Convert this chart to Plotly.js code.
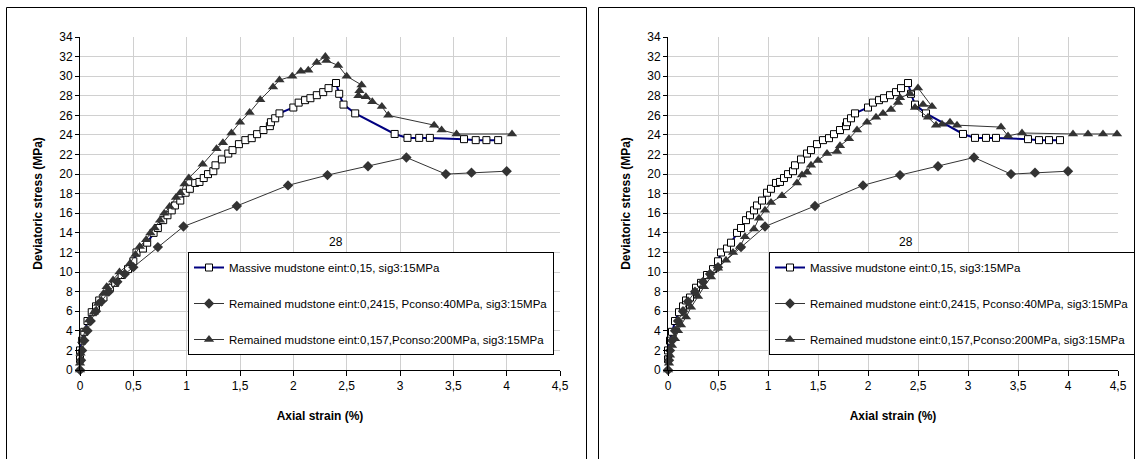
<!DOCTYPE html>
<html>
<head>
<meta charset="utf-8">
<script src="https://cdn.plot.ly/plotly-3.0.1.min.js"></script>
<style>
  html, body { margin: 0; padding: 0; background: #ffffff; }
  #chart { width: 1137px; height: 459px; }
</style>
</head>
<body>
<div id="chart"></div>
<script>
// ---- Data ----
const seriesNames = [
  "Massive mudstone eint:0,15, sig3:15MPa",
  "Remained mudstone eint:0,2415, Pconso:40MPa, sig3:15MPa",
  "Remained mudstone eint:0,157,Pconso:200MPa, sig3:15MPa"
];

// Massive mudstone (same in both panels)
const massiveX = [0, 0, 0.02, 0.04, 0.07, 0.11, 0.15, 0.18, 0.22, 0.28, 0.33, 0.39, 0.45, 0.5, 0.53, 0.59, 0.63, 0.69, 0.73, 0.78, 0.82, 0.86, 0.89, 0.94, 0.99, 1.03, 1.08, 1.12, 1.16, 1.2, 1.25, 1.27, 1.33, 1.39, 1.43, 1.49, 1.55, 1.61, 1.66, 1.72, 1.78, 1.79, 1.83, 1.87, 2.0, 2.05, 2.11, 2.16, 2.22, 2.28, 2.33, 2.4, 2.43, 2.47, 2.58, 2.95, 3.07, 3.18, 3.28, 3.6, 3.71, 3.81, 3.92];
const massiveY = [1.1, 2.0, 3.0, 3.9, 5.0, 5.9, 6.5, 7.1, 7.4, 8.4, 8.9, 9.7, 10.3, 11.1, 12.0, 12.4, 13.0, 14.0, 14.5, 15.3, 15.8, 16.3, 16.8, 17.3, 18.1, 18.5, 19.1, 19.2, 19.6, 20.0, 20.3, 20.9, 21.5, 22.1, 22.45, 23.06, 23.47, 23.67, 24.08, 24.5, 24.9, 25.3, 25.7, 26.2, 26.8, 27.3, 27.55, 27.75, 28.06, 28.37, 28.78, 29.3, 28.2, 27.1, 26.2, 24.1, 23.7, 23.7, 23.7, 23.57, 23.47, 23.47, 23.47];

// Remained mudstone eint 0,2415 (same in both panels)
const remained40X = [0, 0.01, 0.02, 0.04, 0.07, 0.1, 0.15, 0.2, 0.27, 0.35, 0.42, 0.5, 0.73, 0.97, 1.47, 1.95, 2.32, 2.7, 3.06, 3.43, 3.67, 4.0];
const remained40Y = [0, 1, 2, 3, 4, 5, 6, 7, 8, 9, 9.8, 10.5, 12.55, 14.65, 16.75, 18.85, 19.9, 20.8, 21.7, 20.0, 20.15, 20.3];

// Remained mudstone eint 0,157 – left panel
const remained200LeftX = [0, 0, 0.005, 0.02, 0.05, 0.085, 0.13, 0.17, 0.22, 0.25, 0.31, 0.37, 0.47, 0.52, 0.56, 0.62, 0.66, 0.70, 0.75, 0.79, 0.84, 0.90, 0.94, 0.98, 1.02, 1.15, 1.28, 1.34, 1.42, 1.50, 1.59, 1.69, 1.81, 1.87, 1.99, 2.07, 2.14, 2.22, 2.30, 2.31, 2.42, 2.50, 2.64, 2.62, 2.61, 2.68, 2.74, 2.83, 2.89, 3.32, 3.39, 3.53, 4.05];
const remained200LeftY = [0, 0.7, 1.7, 3.0, 4.1, 5.1, 5.9, 6.8, 7.8, 8.5, 9.2, 10.0, 10.9, 11.8, 12.6, 13.3, 14.0, 14.5, 15.3, 16.0, 16.7, 17.6, 18.1, 19.0, 19.6, 21.0, 22.6, 23.2, 24.2, 25.3, 26.3, 27.6, 28.9, 29.6, 30.0, 30.5, 30.6, 31.4, 32.0, 31.6, 31.1, 30.0, 29.1, 28.5, 28.0, 27.9, 27.4, 26.9, 26.0, 25.0, 24.5, 24.1, 24.1];

// Remained mudstone eint 0,157 – right panel
const remained200RightX = [0, 0.01, 0.02, 0.04, 0.07, 0.1, 0.13, 0.18, 0.23, 0.3, 0.36, 0.43, 0.5, 0.58, 0.65, 0.72, 0.77, 0.86, 0.91, 0.97, 1.03, 1.14, 1.29, 1.34, 1.39, 1.43, 1.5, 1.59, 1.69, 1.72, 1.81, 1.89, 1.99, 2.08, 2.15, 2.23, 2.30, 2.32, 2.42, 2.50, 2.64, 2.55, 2.47, 2.60, 2.68, 2.74, 2.82, 2.89, 3.33, 3.40, 3.54, 4.05, 4.2, 4.35, 4.49];
const remained200RightY = [0, 0.7, 1.5, 2.5, 3.2, 4.0, 4.6, 5.4, 6.4, 7.5, 8.5, 9.5, 10.4, 11.2, 12.0, 12.6, 13.6, 14.4, 15.5, 16.3, 17.1, 17.8, 19.1, 19.9, 20.2, 20.9, 21.4, 22.1, 22.3, 22.9, 23.6, 24.5, 25.3, 25.8, 26.2, 26.6, 27.3, 27.8, 28.2, 28.8, 26.9, 27.1, 26.8, 25.8, 25.0, 25.1, 25.3, 25.0, 24.8, 23.9, 24.2, 24.1, 24.1, 24.1, 24.1];

const xTickVals = [0, 0.5, 1, 1.5, 2, 2.5, 3, 3.5, 4, 4.5];
const xTickText = ["0", "0,5", "1", "1,5", "2", "2,5", "3", "3,5", "4", "4,5"];
const yTickVals = [0, 2, 4, 6, 8, 10, 12, 14, 16, 18, 20, 22, 24, 26, 28, 30, 32, 34];

const xTitle = "Axial strain (%)";
const yTitle = "Deviatoric stress (MPa)";
const floatingLabel = "28";

// ---- Geometry helpers (pixel -> paper) ----
const W = 1137, H = 459;
const px = v => v / W;
const py = v => 1 - v / H;

const FONT = "Liberation Sans, Arial, sans-serif";

function styleMassive(xa, ya, lg) {
  return {
    x: massiveX, y: massiveY, xaxis: xa, yaxis: ya, legend: lg,
    name: seriesNames[0], legendgroup: lg + "a", type: "scatter", mode: "lines+markers",
    line: { color: "#000080", width: 2 },
    marker: { symbol: "square", size: 7, color: "#ffffff", line: { color: "#000000", width: 1 } },
    cliponaxis: false
  };
}
function styleDiamond(xa, ya, lg) {
  return {
    x: remained40X, y: remained40Y, xaxis: xa, yaxis: ya, legend: lg,
    name: seriesNames[1], legendgroup: lg + "b", type: "scatter", mode: "lines+markers",
    line: { color: "#333333", width: 1 },
    marker: { symbol: "diamond", size: 8, color: "#333333", line: { color: "#333333", width: 0 } },
    cliponaxis: false
  };
}
function styleTriangle(xs, ys, xa, ya, lg) {
  return {
    x: xs, y: ys, xaxis: xa, yaxis: ya, legend: lg,
    name: seriesNames[2], legendgroup: lg + "c", type: "scatter", mode: "lines+markers",
    line: { color: "#333333", width: 1 },
    marker: { symbol: "triangle-up", size: 9, color: "#333333", line: { color: "#333333", width: 0 } },
    cliponaxis: false
  };
}

const traces = [
  styleMassive("x", "y", "legend"),
  styleDiamond("x", "y", "legend"),
  styleTriangle(remained200LeftX, remained200LeftY, "x", "y", "legend"),
  styleMassive("x2", "y2", "legend2"),
  styleDiamond("x2", "y2", "legend2"),
  styleTriangle(remained200RightX, remained200RightY, "x2", "y2", "legend2")
];

function xAxis(domain, anchor) {
  return {
    domain: domain, anchor: anchor, range: [0, 4.5],
    tickmode: "array", tickvals: xTickVals, ticktext: xTickText,
    ticks: "outside", ticklen: 5, tickcolor: "#000", tickwidth: 1,
    showline: true, linecolor: "#000", linewidth: 1,
    showgrid: true, gridcolor: "#d0d0d0", gridwidth: 1, zeroline: false,
    tickfont: { family: FONT, size: 12, color: "#000" },
    title: { text: xTitle, standoff: 19, font: { family: FONT, size: 12, color: "#000", weight: "bold" } },
    automargin: false,
    fixedrange: true
  };
}
function yAxis(domain, anchor) {
  return {
    domain: domain, anchor: anchor, range: [0, 34],
    tickmode: "array", tickvals: yTickVals,
    ticks: "outside", ticklen: 4, tickcolor: "#000", tickwidth: 1,
    showline: true, linecolor: "#000", linewidth: 1,
    showgrid: true, gridcolor: "#d0d0d0", gridwidth: 1, zeroline: false,
    tickfont: { family: FONT, size: 12, color: "#000" },
    title: { text: yTitle, standoff: 14, font: { family: FONT, size: 12, color: "#000", weight: "bold" } },
    automargin: false,
    fixedrange: true
  };
}

const yDom = [py(370), py(37)];

const legendCommon = {
  bgcolor: "#ffffff", bordercolor: "#000000", borderwidth: 1,
  font: { family: FONT, size: 11.5, color: "#000" },
  tracegroupgap: 17, itemwidth: 30, xanchor: "left", yanchor: "top",
  orientation: "v"
};

const layout = {
  width: W, height: H,
  margin: { l: 0, r: 0, t: 0, b: 0, autoexpand: false },
  paper_bgcolor: "#ffffff", plot_bgcolor: "#ffffff",
  font: { family: FONT, size: 12, color: "#000" },
  xaxis: xAxis([px(80), px(560)], "y"),
  yaxis: yAxis(yDom, "x"),
  xaxis2: xAxis([px(668), px(1118)], "y2"),
  yaxis2: yAxis(yDom, "x2"),
  showlegend: true,
  legend: Object.assign({}, legendCommon, { x: px(188), y: py(252) }),
  legend2: Object.assign({}, legendCommon, { x: px(769), y: py(252) }),
  annotations: [
    { xref: "paper", yref: "paper", x: px(327), y: py(242), text: floatingLabel, showarrow: false,
      font: { family: FONT, size: 12, color: "#000" } },
    { xref: "paper", yref: "paper", x: px(915), y: py(242), text: floatingLabel, showarrow: false,
      font: { family: FONT, size: 12, color: "#000" } }
  ],
  shapes: [
    { type: "rect", xref: "paper", yref: "paper", x0: px(6.5), x1: px(586.5), y0: -0.2, y1: py(7.5),
      line: { color: "#000", width: 1 }, fillcolor: "rgba(0,0,0,0)", layer: "below" },
    { type: "rect", xref: "paper", yref: "paper", x0: px(598.5), x1: px(1134.5), y0: -0.2, y1: py(7.5),
      line: { color: "#000", width: 1 }, fillcolor: "rgba(0,0,0,0)", layer: "below" }
  ]
};

Plotly.newPlot("chart", traces, layout, { staticPlot: true, displayModeBar: false });
</script>
</body>
</html>
